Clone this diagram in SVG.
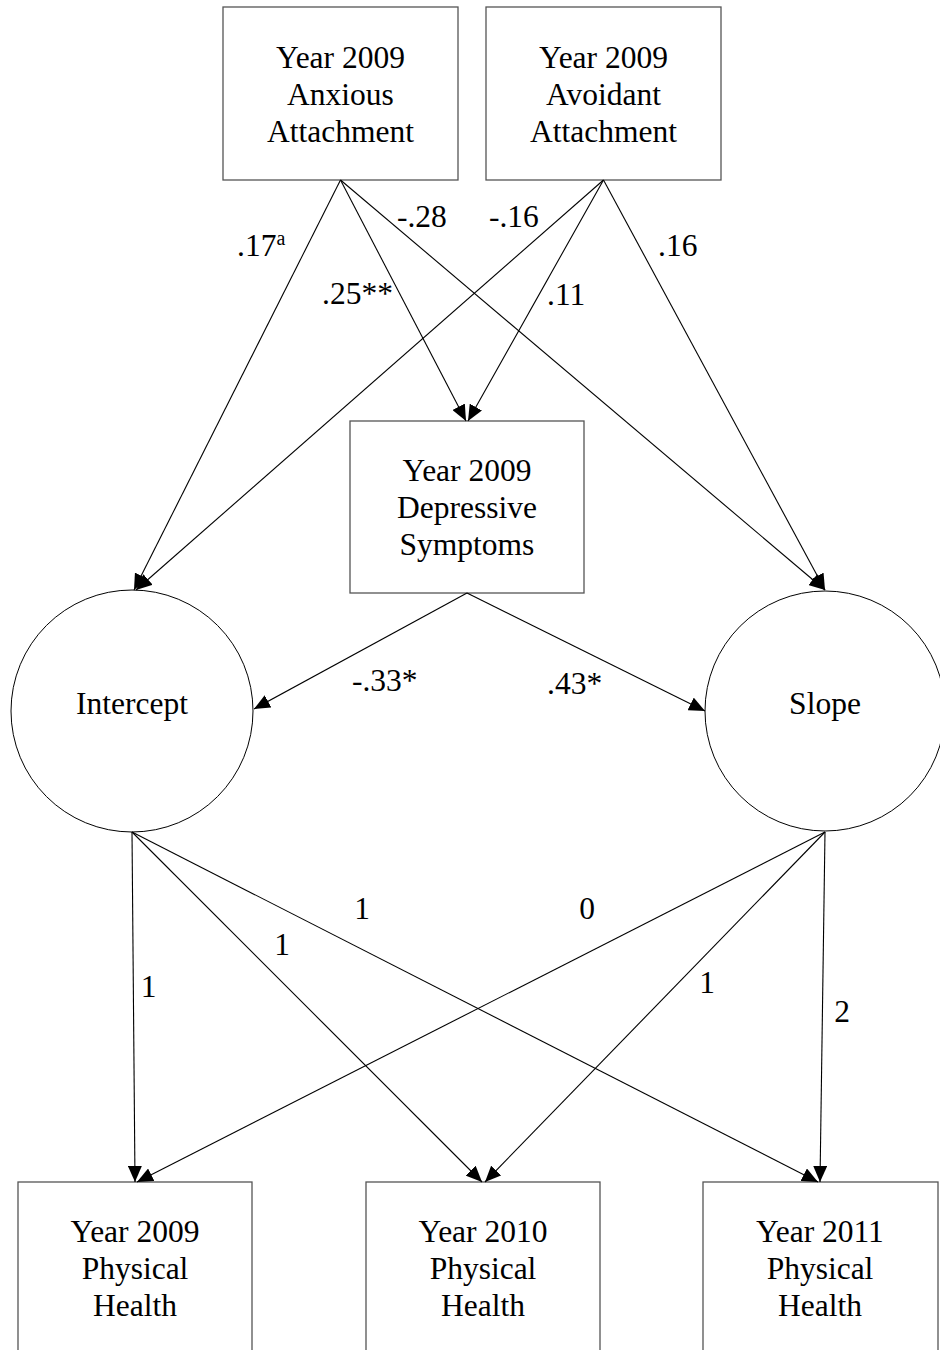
<svg xmlns="http://www.w3.org/2000/svg" width="940" height="1350" viewBox="0 0 940 1350">
<style>
.box{fill:#fff;stroke:#555;stroke-width:1.3}
.circ{fill:#fff;stroke:#000;stroke-width:1}
.t{font-family:'Liberation Serif','Times New Roman',serif;font-size:31.5px;fill:#000;text-anchor:middle}
.lab{font-family:'Liberation Serif','Times New Roman',serif;font-size:31.5px;fill:#000}
.c line{stroke:#000;stroke-width:1.1;marker-end:url(#ah)}
</style>
<defs>
<marker id="ah" markerUnits="userSpaceOnUse" markerWidth="16" markerHeight="14" refX="16" refY="7" orient="auto">
<path d="M0,0 L16,7 L0,14 z" fill="#000"/>
</marker>
</defs>
<rect width="940" height="1350" fill="#fff"/>
<g id="anxious">
<rect class="box" x="223" y="7" width="235" height="173"/>
<text class="t" x="340.5" y="68">Year 2009</text>
<text class="t" x="340.5" y="105">Anxious</text>
<text class="t" x="340.5" y="142">Attachment</text>
</g>
<g id="avoidant">
<rect class="box" x="486" y="7" width="235" height="173"/>
<text class="t" x="603.5" y="68">Year 2009</text>
<text class="t" x="603.5" y="105">Avoidant</text>
<text class="t" x="603.5" y="142">Attachment</text>
</g>
<g id="depressive">
<rect class="box" x="350" y="421" width="234" height="172"/>
<text class="t" x="467" y="481">Year 2009</text>
<text class="t" x="467" y="518">Depressive</text>
<text class="t" x="467" y="555">Symptoms</text>
</g>
<g id="intercept">
<circle class="circ" cx="132" cy="711" r="121"/>
<text class="t" x="132" y="714">Intercept</text>
</g>
<g id="slope">
<circle class="circ" cx="825" cy="711" r="120"/>
<text class="t" x="825" y="714">Slope</text>
</g>
<g id="ph2009">
<rect class="box" x="18" y="1182" width="234" height="180"/>
<text class="t" x="135" y="1242">Year 2009</text>
<text class="t" x="135" y="1279">Physical</text>
<text class="t" x="135" y="1316">Health</text>
</g>
<g id="ph2010">
<rect class="box" x="366" y="1182" width="234" height="180"/>
<text class="t" x="483" y="1242">Year 2010</text>
<text class="t" x="483" y="1279">Physical</text>
<text class="t" x="483" y="1316">Health</text>
</g>
<g id="ph2011">
<rect class="box" x="703" y="1182" width="235" height="180"/>
<text class="t" x="820" y="1242">Year 2011</text>
<text class="t" x="820" y="1279">Physical</text>
<text class="t" x="820" y="1316">Health</text>
</g>
<g id="connectors" class="c">
<line x1="340.5" y1="180" x2="134" y2="590"/>
<line x1="340.5" y1="180" x2="466" y2="421"/>
<line x1="340.5" y1="180" x2="825" y2="590"/>
<line x1="603.5" y1="180" x2="136" y2="590"/>
<line x1="603.5" y1="180" x2="468" y2="421"/>
<line x1="603.5" y1="180" x2="825" y2="590"/>
<line x1="467" y1="593" x2="254" y2="709"/>
<line x1="467" y1="593" x2="705" y2="711"/>
<line x1="132" y1="832" x2="135" y2="1182"/>
<line x1="132" y1="832" x2="482" y2="1182"/>
<line x1="132" y1="832" x2="818" y2="1182"/>
<line x1="825" y1="832" x2="137" y2="1182"/>
<line x1="825" y1="832" x2="485" y2="1182"/>
<line x1="825" y1="832" x2="820" y2="1182"/>
</g>
<g id="labels">
<text class="lab" x="237" y="256">.17<tspan font-size="20" dy="-11">a</tspan></text>
<text class="lab" x="397" y="227">-.28</text>
<text class="lab" x="489" y="227">-.16</text>
<text class="lab" x="658" y="256">.16</text>
<text class="lab" x="322" y="304">.25**</text>
<text class="lab" x="547" y="305">.11</text>
<text class="lab" x="352" y="691">-.33*</text>
<text class="lab" x="547" y="694">.43*</text>
<text class="t" x="362" y="919">1</text>
<text class="t" x="587" y="919">0</text>
<text class="t" x="282" y="955">1</text>
<text class="t" x="148.5" y="997">1</text>
<text class="t" x="707" y="993">1</text>
<text class="t" x="842" y="1022">2</text>
</g>
</svg>
